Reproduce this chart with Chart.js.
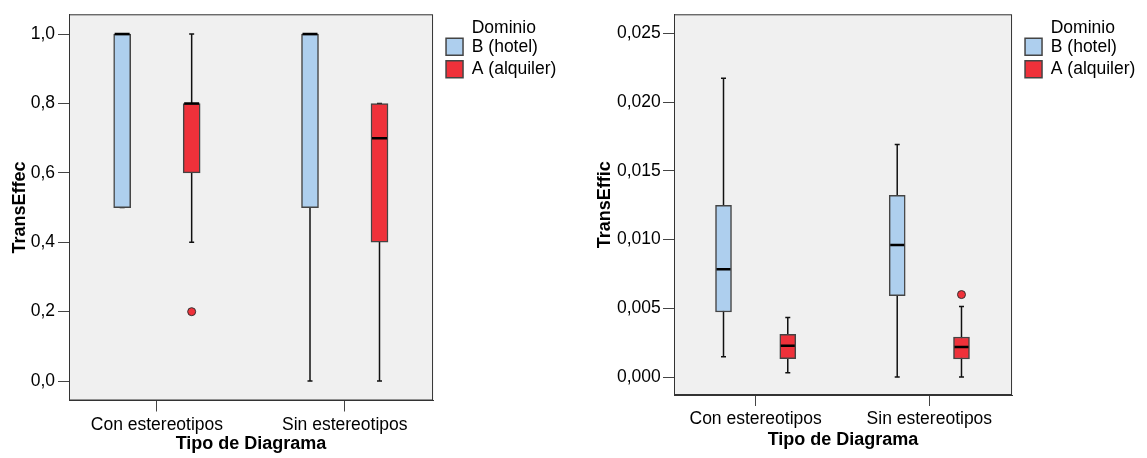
<!DOCTYPE html>
<html>
<head>
<meta charset="utf-8">
<style>
	body { margin: 0; background: #fff; }
	.panel { position: absolute; top: 0; height: 458px; }
	#left { left: 0; width: 574px; }
	#right { left: 574px; width: 573px; }
</style>
</head>
<body>
	<div id="left" class="panel"><canvas id="chartEffec"></canvas></div>
	<div id="right" class="panel"><canvas id="chartEffic"></canvas></div>

	<script src="https://cdn.jsdelivr.net/npm/chart.js"></script>

	<script>

		const categories = ['Con estereotipos', 'Sin estereotipos'];
		const dominios = ['B (hotel)', 'A (alquiler)'];

		// TransEffec, per category: [min, q1, median, q3, max]
		const effecHotel = [[0.5, 0.5, 1.0, 1.0, 1.0], [0.0, 0.5, 1.0, 1.0, 1.0]];
		const effecAlquiler = [[0.4, 0.6, 0.8, 0.8, 1.0], [0.0, 0.4, 0.7, 0.8, 0.8]];
		const effecOutHotel = [[], []];
		const effecOutAlquiler = [[0.2], []];
		const effecTicks = [0, 0.2, 0.4, 0.6, 0.8, 1.0];

		// TransEffic, per category: [min, q1, median, q3, max]
		const efficHotel = [[0.00148, 0.00473, 0.00784, 0.0125, 0.02174], [0.0, 0.00592, 0.00961, 0.01322, 0.01693]];
		const efficAlquiler = [[0.00031, 0.00133, 0.00228, 0.00311, 0.00434], [0.0, 0.00131, 0.00218, 0.00291, 0.00514]];
		const efficOutHotel = [[], []];
		const efficOutAlquiler = [[], [0.006]];
		const efficTicks = [0, 0.005, 0.010, 0.015, 0.020, 0.025];

		const FONT = "'Liberation Sans', Arial, sans-serif";
		const colors = ['#AECFEE', '#EF313A'];
		const dodge = [-0.185, 0.185];
		const LEGEND_GAP = 8.2;

		// grey plot area with a frame, SPSS style
		const plotFrame = {
			id: 'plotFrame',
			afterLayout(chart) {
				// push the legend a bit away from the frame
				const lg = chart.legend;
				if (lg) {
					lg.left += LEGEND_GAP;
					lg.right += LEGEND_GAP;
				}
			},
			beforeDraw(chart) {
				const {ctx, chartArea: a} = chart;
				ctx.save();
				ctx.fillStyle = '#F0F0F0';
				ctx.fillRect(a.left, a.top, a.width, a.height);
				ctx.strokeStyle = '#333';
				ctx.lineWidth = 1;
				ctx.strokeRect(a.left + 0.5, a.top + 0.5, a.width - 1, a.height - 1);
				ctx.restore();
			}
		};

		function boxDatasets(groups, outliers, barPx) {
			const sets = [];
			groups.forEach((stats, g) => {
				const xOf = i => i + dodge[g];

				const whisk = [];
				stats.forEach((s, i) => {
					whisk.push({x: xOf(i), y: s[0]}, {x: xOf(i), y: s[4]}, {x: xOf(i), y: null});
				});
				sets.push({
					type: 'scatter', label: '', data: whisk, showLine: true, spanGaps: false,
					borderColor: '#111', borderWidth: 1.5,
					pointStyle: 'line', pointRadius: 2.5, pointBorderWidth: 1.5, pointBorderColor: '#111',
					order: 3
				});

				sets.push({
					type: 'bar', label: dominios[g],
					data: stats.map((s, i) => ({x: xOf(i), y: [s[1], s[3]]})),
					backgroundColor: colors[g], borderColor: '#444', borderWidth: 1.5,
					borderSkipped: false, barThickness: barPx, grouped: false,
					order: 2
				});

				sets.push({
					type: 'scatter', label: '',
					data: stats.map((s, i) => ({x: xOf(i), y: s[2]})),
					pointStyle: 'line', pointRadius: barPx / 2 - 1, pointBorderWidth: 2.5, pointBorderColor: '#000',
					order: 1
				});

				const outs = [];
				outliers[g].forEach((vals, i) => vals.forEach(v => outs.push({x: xOf(i), y: v})));
				sets.push({
					type: 'scatter', label: '', data: outs,
					pointStyle: 'circle', pointRadius: 4,
					pointBackgroundColor: colors[g], pointBorderColor: '#333', pointBorderWidth: 1,
					order: 0
				});
			});
			return sets;
		}

		function makeChart(id, p) {
			return new Chart(document.getElementById(id), {
				type: 'scatter',
				data: { datasets: boxDatasets(p.groups, p.outliers, p.barPx) },
				options: {
					responsive: true,
					maintainAspectRatio: false,
					animation: false,
					layout: { padding: { top: 14.3, right: p.padRight, bottom: 0, left: 0 } },
					plugins: {
						tooltip: { enabled: false },
						legend: {
							position: 'right',
							align: 'start',
							title: {
								display: true, text: 'Dominio', color: '#000',
								font: { family: FONT, size: 17.5, lineHeight: 0.8 },
								padding: { top: 5, bottom: 0 }
							},
							labels: {
								boxWidth: 17, boxHeight: 17, padding: 4.8, color: '#000',
								font: { family: FONT, size: 17.5 },
								filter: item => item.text !== ''
							}
						}
					},
					scales: {
						x: {
							type: 'linear', min: p.xMin, max: p.xMax, offset: false,
							afterBuildTicks: s => { s.ticks = categories.map((c, i) => ({value: i})); },
							afterFit: s => { s.height = p.xHeight; },
							grid: { display: true, drawOnChartArea: false, drawTicks: true, tickLength: 11, color: '#444', offset: false },
							border: { display: true, color: '#333' },
							ticks: {
								callback: v => categories[Math.round(v)],
								autoSkip: false, maxRotation: 0, padding: p.xTickPad, color: '#000',
								font: { family: FONT, size: 17.5 }
							},
							title: {
								display: true, text: 'Tipo de Diagrama', color: '#000',
								font: { family: FONT, size: 18, weight: 'bold' },
								padding: { top: 0, bottom: p.xTitlePad }
							}
						},
						y: {
							type: 'linear', min: p.yMin, max: p.yMax,
							afterBuildTicks: s => { s.ticks = p.ticks.map(v => ({value: v})); },
							afterFit: s => { s.width = p.yWidth; },
							grid: { display: true, drawOnChartArea: false, drawTicks: true, tickLength: 11, color: '#444' },
							border: { display: true, color: '#333' },
							ticks: {
								callback: v => v.toFixed(p.decimals).replace('.', ','),
								padding: p.yTickPad, color: '#000',
								font: { family: FONT, size: 17.5 }
							},
							title: {
								display: true, text: p.yTitle, color: '#000',
								font: { family: FONT, size: 18, weight: 'bold' },
								padding: { top: p.yTitlePad, bottom: 0 }
							}
						}
					}
				},
				plugins: [plotFrame]
			});
		}

		makeChart('chartEffec', {
			groups: [effecHotel, effecAlquiler],
			outliers: [effecOutHotel, effecOutAlquiler],
			ticks: effecTicks, decimals: 1, yTitle: 'TransEffec',
			yMin: -0.056, yMax: 1.057, xMin: -0.468, xMax: 1.470,
			yWidth: 69, yTickPad: 3, yTitlePad: 9.2,
			xHeight: 57.5, xTickPad: 3, xTitlePad: 2.7,
			barPx: 17, padRight: 15.8
		});

		makeChart('chartEffic', {
			groups: [efficHotel, efficAlquiler],
			outliers: [efficOutHotel, efficOutAlquiler],
			ticks: efficTicks, decimals: 3, yTitle: 'TransEffic',
			yMin: -0.00131, yMax: 0.0264, xMin: -0.470, xMax: 1.476,
			yWidth: 100, yTickPad: 2.3, yTitlePad: 20.2,
			xHeight: 63, xTickPad: 3, xTitlePad: 6.7,
			barPx: 16, padRight: 9.8
		});

	</script>
</body>
</html>
